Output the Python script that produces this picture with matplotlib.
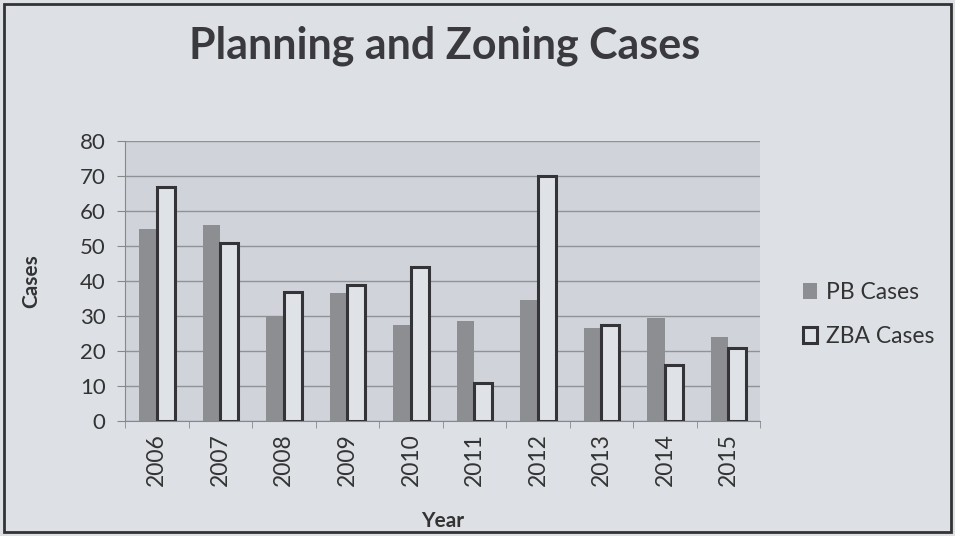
import matplotlib
matplotlib.use('Agg')
import matplotlib.pyplot as plt
import numpy as np

years = ['2006', '2007', '2008', '2009', '2010', '2011', '2012', '2013', '2014', '2015']
pb_cases = [55, 56, 30, 36.5, 27.5, 28.5, 34.5, 26.5, 29.5, 24]
zba_cases = [67, 51, 37, 39, 44, 11, 70, 27.5, 16, 21]

plt.rcParams['font.family'] = ['Lato', 'DejaVu Sans']

bg = '#dde1e6'
fig = plt.figure(figsize=(9.55, 5.36), dpi=100, facecolor=bg)
ax = fig.add_axes([0.131, 0.2146, 0.665, 0.522])
ax.set_facecolor('#d0d4da')

x = np.arange(len(years))
w = 0.28
ax.bar(x - w / 2, pb_cases, w, color='#8c8e91', edgecolor='none', label='PB Cases', zorder=3)
ax.bar(x + w / 2, zba_cases, w, color='#dfe2e6', edgecolor='#333338', linewidth=2.2, label='ZBA Cases', zorder=3)

ax.set_xlim(-0.5, len(years) - 0.5)
ax.set_ylim(0, 80)
ax.set_yticks(range(0, 81, 10))
ax.tick_params(axis='y', labelsize=16, colors='#333333', length=6, pad=8, color='#888888')
ax.set_xticks(x)
ax.set_xticklabels(years, rotation=90, fontsize=16.5, color='#333333')
ax.tick_params(axis='x', length=0, pad=9)
ax.set_xticks(np.arange(-0.5, len(years), 1), minor=True)
ax.tick_params(axis='x', which='minor', length=5, color='#888888')
ax.grid(axis='y', color='#8f9398', linewidth=1, zorder=0)

for s in ['top', 'right']:
    ax.spines[s].set_visible(False)
ax.spines['left'].set_color('#888888')
ax.spines['bottom'].set_color('#888888')

ax.set_ylabel('Cases', fontsize=15, fontweight='bold', color='#333333', labelpad=28)
ax.set_xlabel('Year', fontsize=15, fontweight='bold', color='#333333', labelpad=18)

fig.text(0.466, 0.915, 'Planning and Zoning Cases', ha='center', va='center',
         fontsize=31, fontweight='bold', color='#3a3a3e')

leg = ax.legend(loc='center left', bbox_to_anchor=(1.035, 0.38), frameon=False,
                fontsize=16.5, labelspacing=1.0, handlelength=0.6, handletextpad=0.4)
for t in leg.get_texts():
    t.set_color('#333333')

fig.patches.append(plt.Rectangle((0.004, 0.008), 0.992, 0.985, transform=fig.transFigure,
                                 fill=False, edgecolor='#333333', linewidth=2))

fig.savefig('out.png', dpi=100, facecolor=bg)
